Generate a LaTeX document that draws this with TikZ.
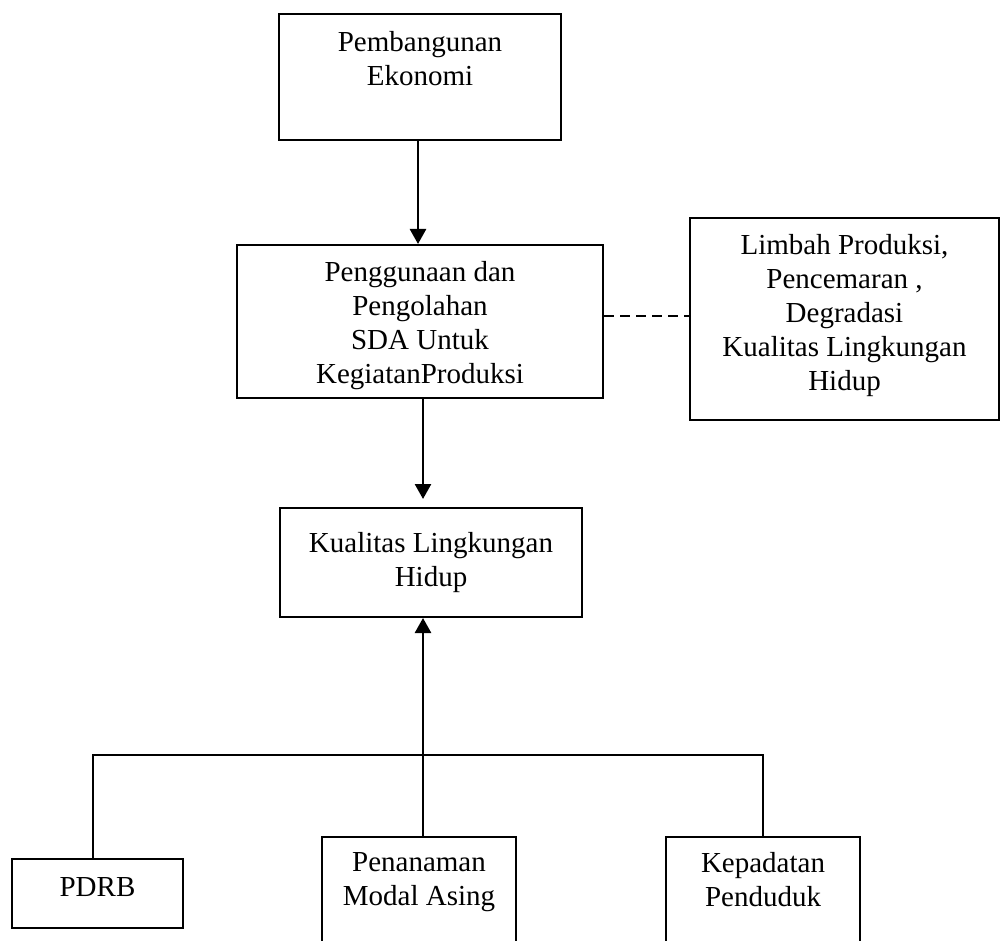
\documentclass[tikz,border=0pt]{standalone}
\usepackage{fontspec}
\setmainfont{Liberation Serif}
\usetikzlibrary{positioning,arrows.meta}
\tikzset{
	box/.style={draw, line width=1pt, inner sep=0pt},
	txt/.style={align=center, inner sep=0pt, font=\fontsize{14.5pt}{17pt}\selectfont},
	flow/.style={line width=1.3pt, -{Triangle[width=8pt,length=7.5pt]}},
	tree/.style={line width=0.8pt},
}
\begin{document}
\begin{tikzpicture}[x=.5pt, y=-.5pt]
		\useasboundingbox (0,0) rectangle (1001,941);
		\clip (0,0) rectangle (1001,941);
		% boxes
		\node[box, minimum width=141pt, minimum height=63pt] (eko) at (420,77) {};
		\node[box, minimum width=183pt, minimum height=76.5pt] (sda) at (420,321.5) {};
		\node[box, minimum width=154.5pt, minimum height=101pt] (limbah) at (844.5,319) {};
		\node[box, minimum width=151pt, minimum height=54.5pt] (klh) at (431,562.5) {};
		\node[box, minimum width=85.5pt, minimum height=34.5pt] (pdrb) at (97.5,893.5) {};
		\node[box, minimum width=97pt, minimum height=71.5pt] (pma) at (419,908.5) {};
		\node[box, minimum width=97pt, minimum height=71.5pt] (kp) at (763,908.5) {};
		% texts
		\node[txt, below=9pt of eko.north] (ekoTxt) {Pembangunan\\Ekonomi};
		\node[txt, below=8.5pt of sda.north] (sdaTxt) {Penggunaan dan\\Pengolahan\\SDA Untuk\\KegiatanProduksi};
		\node[txt, below=8.5pt of limbah.north] (limbahTxt) {Limbah Produksi,\\Pencemaran ,\\Degradasi\\Kualitas Lingkungan\\Hidup};
		\node[txt, below=12.5pt of klh.north] (klhTxt) {Kualitas Lingkungan\\Hidup};
		\node[txt, below=9.5pt of pdrb.north] (pdrbTxt) {PDRB};
		\node[txt, below=8pt of pma.north] (pmaTxt) {Penanaman\\Modal Asing};
		\node[txt, below=8pt of kp.north] (kpTxt) {Kepadatan\\Penduduk};
		% connectors
		\coordinate (hub) at (423,755);
		\draw[flow] (eko.south -| 418,0) -- (sda.north -| 418,0);
		\draw[flow, shorten >=4pt] (sda.south -| hub) -- (klh.north -| hub);
		\draw[line width=0.8pt, dashed, dash pattern=on 5pt off 3pt] (sda.east |- 0,316) -- (limbah.west |- 0,316);
		\draw[flow] (hub) -- (klh.south -| hub);
		\draw[tree] (pdrb.north -| 93,0) |- (kp.north |- hub) -- (kp.north);
		\draw[tree] (hub) -- (pma.north -| hub);
	\end{tikzpicture}
\end{document}
